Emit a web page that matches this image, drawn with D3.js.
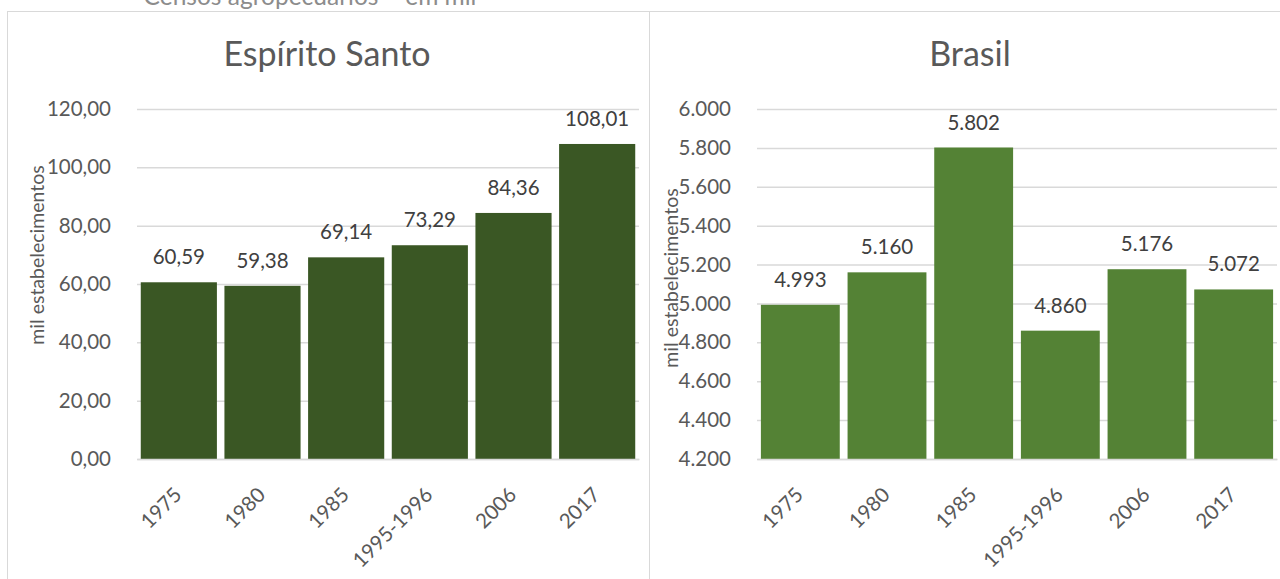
<!DOCTYPE html>
<html>
<head>
<meta charset="utf-8">
<script src="https://cdn.jsdelivr.net/npm/d3@7"></script>
<style>
  body { margin: 0; background: #fff; }
  svg { font-family: Lato, "Noto Sans", sans-serif; }
</style>
</head>
<body>
<div id="chart"></div>
<script>
// Datos de los censos
var categorias = ["1975", "1980", "1985", "1995-1996", "2006", "2017"];
var valoresES = [60.59, 59.38, 69.14, 73.29, 84.36, 108.01];
var valoresBR = [4993, 5160, 5802, 4860, 5176, 5072];
var ticksES = [0, 20, 40, 60, 80, 100, 120];
var ticksBR = [4200, 4400, 4600, 4800, 5000, 5200, 5400, 5600, 5800, 6000];

var width = 1280, height = 579;

// Formato brasileño: coma decimal, punto de miles
var locale = d3.formatLocale({ decimal: ",", thousands: ".", grouping: [3], currency: ["R$", ""] });

var svg = d3.select("#chart").append("svg")
    .attr("width", width)
    .attr("height", height);

// Título general (cortado arriba)
svg.append("text")
    .attr("x", 310)
    .attr("y", 5)
    .attr("text-anchor", "middle")
    .style("font-size", "24.5px")
    .style("fill", "#8c8c8c")
    .text("Censos agropecuários – em mil");

// Paneles
svg.append("rect")
    .attr("x", 7.5).attr("y", 11.5)
    .attr("width", 642).attr("height", 600)
    .attr("fill", "none").attr("stroke", "#d9d9d9");
svg.append("rect")
    .attr("x", 649.5).attr("y", 11.5)
    .attr("width", 640).attr("height", 600)
    .attr("fill", "none").attr("stroke", "#d9d9d9");

function dibujarPanel(cfg) {
    var x = d3.scaleBand()
        .domain(categorias)
        .range([cfg.x0, cfg.x1])
        .paddingInner(0.09)
        .paddingOuter(0.045);

    var y = d3.scaleLinear()
        .domain(cfg.domain)
        .range([459, 109]);

    var g = svg.append("g");

    // Líneas de cuadrícula
    g.append("g")
        .attr("transform", "translate(" + cfg.x0 + ",0)")
        .call(d3.axisLeft(y).tickValues(cfg.ticks).tickSize(-(cfg.x1 - cfg.x0)).tickFormat(""))
        .call(function(a) {
            a.select(".domain").remove();
            a.selectAll("line").attr("stroke", "#d9d9d9").attr("stroke-width", 1.5);
        });

    // Barras
    g.selectAll(".bar")
        .data(cfg.valores)
        .enter().append("rect")
        .attr("class", "bar")
        .attr("x", function(d, i) { return x(categorias[i]); })
        .attr("width", x.bandwidth())
        .attr("y", function(d) { return y(d); })
        .attr("height", function(d) { return y(cfg.domain[0]) - y(d); })
        .attr("fill", cfg.color);

    // Etiquetas de valores
    g.selectAll(".label")
        .data(cfg.valores)
        .enter().append("text")
        .attr("class", "label")
        .attr("x", function(d, i) { return x(categorias[i]) + x.bandwidth() / 2; })
        .attr("y", function(d) { return y(d) - 18; })
        .attr("text-anchor", "middle")
        .style("font-size", "20.5px")
        .style("fill", "#404040")
        .text(function(d) { return cfg.fmt(d); });

    // Eje y (etiquetas)
    g.append("g")
        .attr("transform", "translate(" + (cfg.x0 - 23) + ",0)")
        .call(d3.axisLeft(y).tickValues(cfg.ticks).tickSize(0).tickFormat(cfg.fmtEje))
        .call(function(a) {
            a.select(".domain").remove();
            a.selectAll("text")
                .style("font-family", "Lato, 'Noto Sans', sans-serif")
                .style("font-size", "20.5px")
                .style("fill", "#595959");
        });

    // Eje x (línea base)
    g.append("g")
        .attr("transform", "translate(0,459)")
        .call(d3.axisBottom(x).tickSize(0).tickFormat(""))
        .call(function(a) {
            a.select(".domain").attr("stroke", "#d9d9d9").attr("stroke-width", 1.5);
        });

    // Etiquetas del eje x rotadas
    g.selectAll(".cat")
        .data(categorias)
        .enter().append("text")
        .attr("class", "cat")
        .attr("transform", function(d) {
            return "translate(" + (x(d) + x.bandwidth() / 2 - 6) + ",486) rotate(-45)";
        })
        .attr("text-anchor", "end")
        .attr("dy", "0.7em")
        .style("font-size", "20.5px")
        .style("fill", "#595959")
        .text(function(d) { return d; });

    // Título
    g.append("text")
        .attr("x", cfg.tituloX)
        .attr("y", 66)
        .attr("text-anchor", "middle")
        .style("font-size", "34px")
        .style("fill", "#595959")
        .text(cfg.titulo);

    // Título del eje y
    g.append("text")
        .attr("transform", "translate(" + cfg.labelX + "," + cfg.labelY + ") rotate(-90)")
        .attr("text-anchor", "middle")
        .attr("dy", "0.35em")
        .style("font-size", "19.5px")
        .style("fill", "#595959")
        .text("mil estabelecimentos");
}

dibujarPanel({
    x0: 137, x1: 639,
    domain: [0, 120], ticks: ticksES, valores: valoresES,
    color: "#3a5724",
    fmt: locale.format(",.2f"), fmtEje: locale.format(",.2f"),
    titulo: "Espírito Santo", tituloX: 327,
    labelX: 37, labelY: 255
});

dibujarPanel({
    x0: 757, x1: 1277,
    domain: [4200, 6000], ticks: ticksBR, valores: valoresBR,
    color: "#548235",
    fmt: locale.format(",.0f"), fmtEje: locale.format(",.0f"),
    titulo: "Brasil", tituloX: 970,
    labelX: 671, labelY: 278
});
</script>
</body>
</html>
